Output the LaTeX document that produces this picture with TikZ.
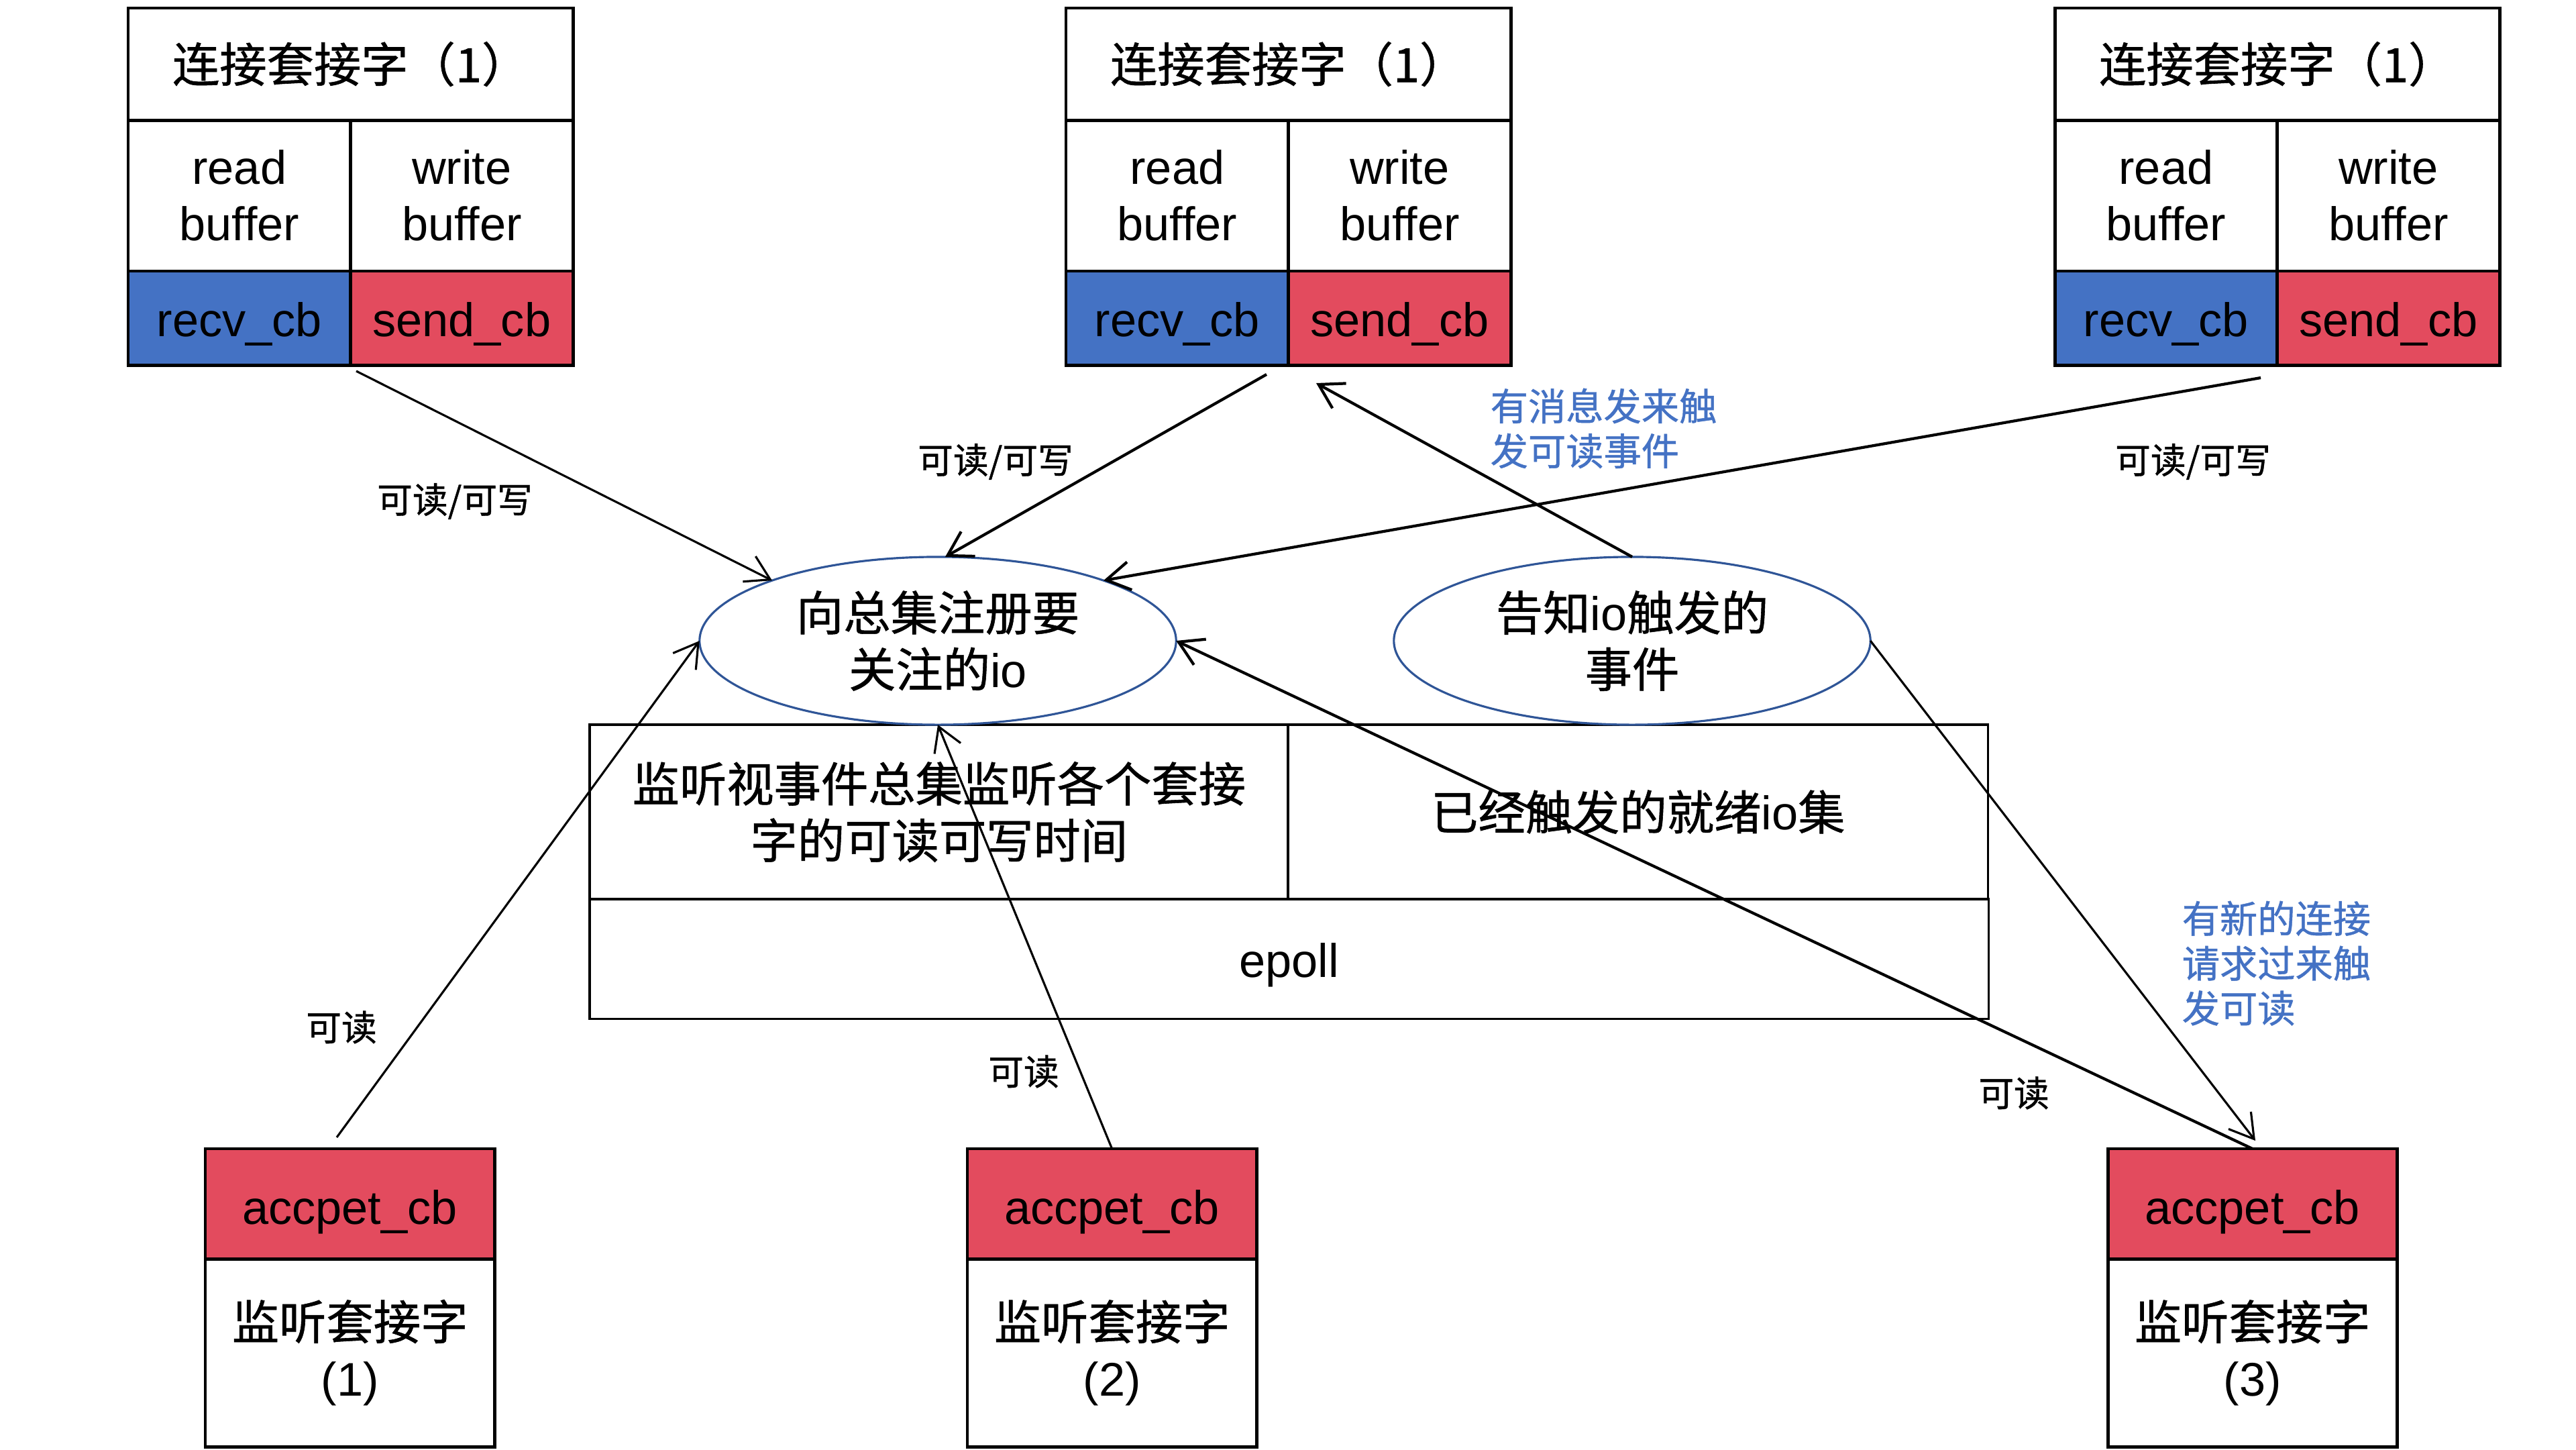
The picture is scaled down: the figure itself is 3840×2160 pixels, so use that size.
\documentclass[tikz,border=0pt]{standalone}
\usepackage{fontspec}
\setmainfont{Liberation Sans}
\newfontfamily\cjk[FakeBold=0.8]{Noto Sans CJK SC}
\usetikzlibrary{arrows.meta,shapes.geometric,calc}
\definecolor{cbred}{RGB}{227,75,94}
\definecolor{cbblue}{RGB}{68,114,196}
\definecolor{ellblue}{RGB}{47,85,151}
\definecolor{lblblue}{RGB}{68,114,196}
\newcommand\lowr[2]{\raisebox{-#1}[\height][\depth]{#2}}
\newcommand\sockblk[2]{%
 \node[cell, minimum width=6.63cm, minimum height=1.67cm] (#1t) at (#2,12) {{\cjk 连接套接字（1）}};
 \node[cell, minimum width=3.315cm, minimum height=2.25cm] (#1r) at (#2,179) {read\\buffer};
 \node[cell, minimum width=3.315cm, minimum height=2.25cm] (#1w) at (#2+331.5,179) {write\\buffer};
 \node[cell, fill=cbblue, minimum width=3.315cm, minimum height=1.40cm] (#1c) at (#2,404) {\lowr{2.5pt}{recv\_cb}};
 \node[cell, fill=cbred, minimum width=3.315cm, minimum height=1.40cm] (#1s) at (#2+331.5,404) {\lowr{2.5pt}{send\_cb}};
}
\newcommand\lstnblk[3]{%
 \node[cell, fill=cbred, minimum width=4.31cm, minimum height=1.64cm] (#1a) at (#2,1712) {\lowr{3.5pt}{accpet\_cb}};
 \node[cell, minimum width=4.31cm, minimum height=2.80cm] (#1b) at (#2,1876) {{\cjk 监听套接字}\\#3};
}
\begin{document}
\begin{tikzpicture}[x=0.01cm,y=-0.01cm,
  cell/.style={draw=black, line width=1.4pt, inner sep=0pt, outer sep=0pt, anchor=north west,
    align=center, font=\fontsize{20}{24}\selectfont},
  ecell/.style={cell, line width=0.9pt, fill=white},
  oval/.style={ellipse, draw=ellblue, line width=0.9pt, fill=white, minimum width=7.1cm,
    minimum height=2.5cm, inner sep=0pt, outer sep=0pt, align=center, font=\fontsize{20}{24}\selectfont},
  conn/.style={line width=0.9pt, -{Straight Barb[length=10pt,width=12pt]}},
  connb/.style={conn, line width=1.2pt},
  lbl/.style={font=\cjk\fontsize{15}{18}\selectfont, inner sep=0pt},
  note/.style={text=lblblue, align=left, font=\cjk\fontsize{16}{19}\selectfont, inner sep=0pt, anchor=north west}]
\useasboundingbox[fill=white] (0,0) rectangle (3840,2160);

% socket blocks
\sockblk{TL}{191}
\sockblk{TM}{1589}
\sockblk{TR}{3063}

% epoll box
\node[ecell, minimum width=10.41cm, minimum height=2.6cm] (EPl) at (879,1080)
  {{\cjk 监听视事件总集监听各个套接}\\{\cjk 字的可读可写时间}};
\node[ecell, minimum width=10.43cm, minimum height=2.6cm] (EPr) at (1920,1080)
  {{\cjk 已经触发的就绪}io{\cjk 集}};
\node[ecell, minimum width=20.84cm, minimum height=1.78cm] (EPb) at (879,1340) {\lowr{2.5pt}{epoll}};

% ellipses
\node[oval] (EL) at (1398,955) {{\cjk 向总集注册要}\\{\cjk 关注的}io};
\node[oval] (ER) at (2433,955) {{\cjk 告知}io{\cjk 触发的}\\{\cjk 事件}};

% listening sockets
\lstnblk{BL}{306}{(1)}
\lstnblk{BM}{1442}{(2)}
\lstnblk{BR}{3142}{(3)}

% connectors
\coordinate (s1) at (531,553);
\coordinate (s2) at (1888,558);
\coordinate (s3) at (3370,563);
\coordinate (e4) at (1962,571);
\coordinate (s5) at (502,1695);
\coordinate (e8) at (3362,1700);
\draw[conn] (s1) -- (EL.160);
\draw[connb] (s2) -- (EL.85);
\draw[connb] (s3) -- (EL.20);
\draw[connb] (ER.north) -- (e4);
\draw[conn] (s5) -- (EL.west);
\draw[conn] (BMa.north) -- (EL.south);
\draw[connb] (BRa.north) -- (EL.east);
\draw[conn] (ER.east) -- (e8);

% labels
\node[lbl] (l1) at (678,747) {可读/可写};
\node[lbl] (l2) at (1484,688) {可读/可写};
\node[lbl] (l3) at (3269,688) {可读/可写};
\node[lbl] (l5) at (509,1531) {可读};
\node[lbl] (l6) at (1526,1597) {可读};
\node[lbl] (l7) at (3002,1629) {可读};
\node[note] (n1) at (2221,578) {有消息发来触\\发可读事件};
\node[note] (n2) at (3252,1342) {有新的连接\\请求过来触\\发可读};
\end{tikzpicture}
\end{document}
